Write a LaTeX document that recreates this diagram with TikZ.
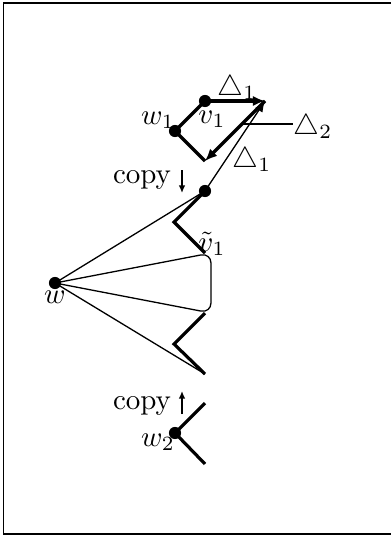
\documentclass[tikz,border=0pt]{standalone}
\usetikzlibrary{arrows.meta}
\begin{document}
\begin{tikzpicture}[x=0.345pt,y=-0.345pt,
  dot/.style={circle,fill,inner sep=0pt,minimum size=4.2pt},
  thk/.style={line width=1.1pt,line join=miter},
  thn/.style={line width=0.45pt},
  bigtip/.style={-{Latex[length=4.2pt,width=3.6pt]}},
  smalltip/.style={-{Latex[length=2.6pt,width=2.2pt]}},
  lbl/.style={inner sep=0pt}]
\useasboundingbox (0,0) rectangle (390,536);
\draw[thn] (3.5,3) rectangle (430,534);
% top quadrilateral
\node[dot] (v1) at (205,101) {};
\node[dot] (w1) at (175,131) {};
\coordinate (tr) at (265,101);
\coordinate (bc) at (205,161);
\draw[thk] (w1.center) -- (v1.center);
\draw[thk,bigtip] (v1.center) -- (tr);
\draw[thk,bigtip] (tr) -- (bc);
\draw[thk] (bc) -- (w1.center);
% middle
\node[dot] (t) at (205,191) {};
\draw[thn,-{Latex[length=3.8pt,width=3pt]}] (t.center) -- (tr);
\coordinate (z1) at (174,222);
\coordinate (m1) at (205,253);
\coordinate (m2) at (205,313);
\coordinate (z2) at (174,344);
\coordinate (b) at (205,374);
\draw[thk] (t.center) -- (z1) -- (m1);
\draw[thk] (m2) -- (z2) -- (b);
\node[dot] (w) at (55,283) {};
\draw[thn] (w.center) -- (t.center);
\draw[thn] (w.center) -- (b);
\draw[thn,rounded corners=3.5] (w.center) -- (211,253) -- (211,313) -- (w.center);
% bottom
\node[dot] (w2) at (175,433) {};
\coordinate (u) at (205,403);
\coordinate (l) at (205,464);
\draw[thk] (u) -- (w2.center) -- (l);
% labels
\node[lbl] (d1a) at (237,88) {$\triangle_1$};
\node[lbl] (d2) at (313,127) {$\triangle_2$};
\coordinate (d2s) at (243,124);
\draw[thn] (d2s) -- (293,124);
\node[lbl] (d1b) at (252,160) {$\triangle_1$};
\node[lbl] (lw1) at (158,120) {$w_1$};
\node[lbl] (lv1) at (212,119) {$v_1$};
\node[lbl] (lvt) at (212,244) {$\tilde v_1$};
\node[lbl] (lw) at (55,297) {$w$};
\node[lbl] (lw2) at (158,442) {$w_2$};
\node[lbl,anchor=base] (c1) at (142,183) {copy};
\node[lbl,anchor=base] (c2) at (142,409) {copy};
\coordinate (a1s) at (182,170);
\coordinate (a1e) at (182,193);
\draw[thn,smalltip] (a1s) -- (a1e);
\coordinate (a2s) at (182,414);
\coordinate (a2e) at (182,391);
\draw[thn,smalltip] (a2s) -- (a2e);
\end{tikzpicture}
\end{document}
